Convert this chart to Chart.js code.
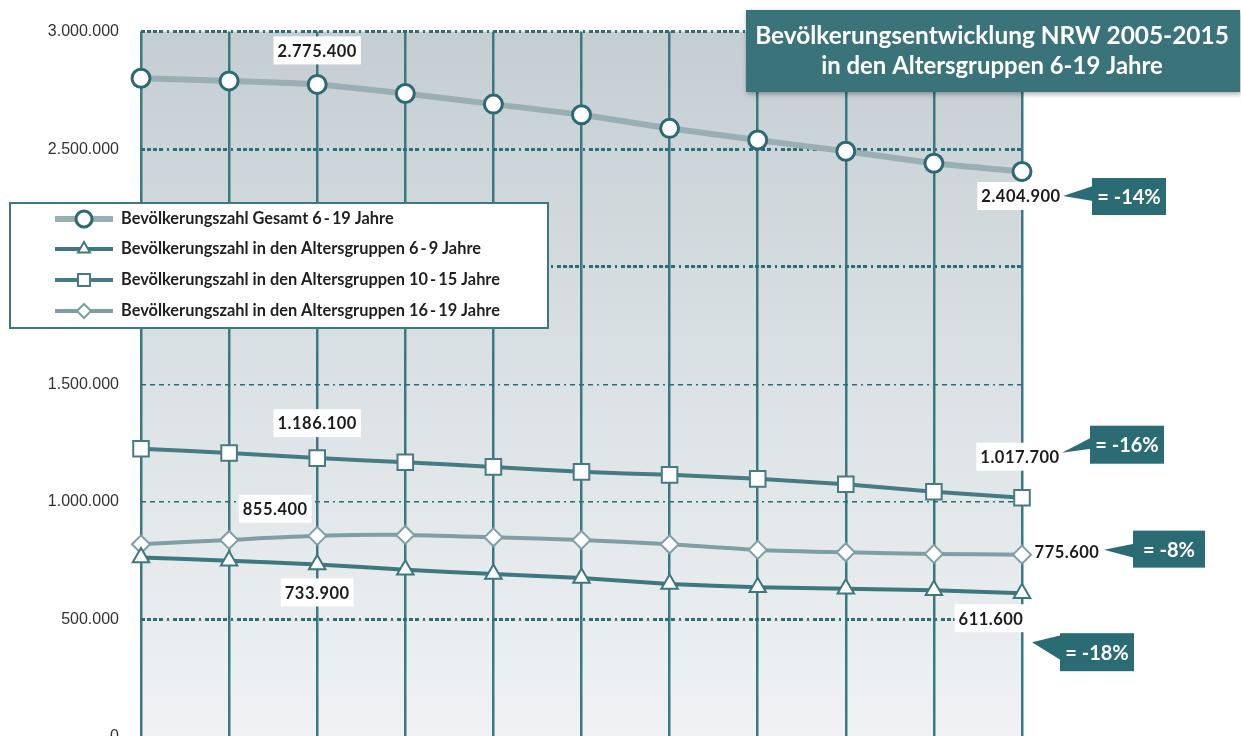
<!DOCTYPE html>
<html><head><meta charset="utf-8">
<script src="https://cdn.jsdelivr.net/npm/chart.js@4.4.1/dist/chart.umd.min.js"></script>
<style>
html,body{margin:0;padding:0;background:#fff;overflow:hidden;width:1241px;height:736px}
#wrap{position:relative;width:1241px;height:780px}
</style>
</head><body><div id="wrap"><canvas id="c" width="1241" height="780"></canvas></div>
<script>
// ---- data ----
const years = ['2005','2006','2007','2008','2009','2010','2011','2012','2013','2014','2015'];
const gesamt    = [2801700,2790300,2775400,2736900,2691600,2646200,2588600,2539000,2491100,2440300,2404900];
const age6to9   = [763600,749600,733900,711500,693200,676300,650900,636400,630900,623700,611600];
const age10to15 = [1226300,1208000,1186100,1168200,1148700,1127600,1114800,1097900,1075000,1042800,1017700];
const age16to19 = [819500,838100,855400,859300,849200,838100,819500,795800,785600,778800,775600];
const yTicks = [0,500000,1000000,1500000,2000000,2500000,3000000];
const seriesLabels = [
  'Bevölkerungszahl Gesamt 6\u2009-\u200919 Jahre',
  'Bevölkerungszahl in den Altersgruppen 6\u2009-\u20099 Jahre',
  'Bevölkerungszahl in den Altersgruppen 10\u2009-\u200915 Jahre',
  'Bevölkerungszahl in den Altersgruppen 16\u2009-\u200919 Jahre'
];
const changeLabels = ['= -14%','= -18%','= -16%','= -8%'];
const titleLines = ['Bevölkerungsentwicklung NRW 2005-2015','in den Altersgruppen 6-19 Jahre'];

const fmt = v => String(Math.round(v)).replace(/\B(?=(\d{3})+(?!\d))/g, '.');

function fitFont(ctx, text, weight, family, target){
  let s = 20;
  ctx.font = weight+' '+s+'px '+family;
  const w = ctx.measureText(text).width;
  return s * target / w;
}

// ---- plugins ----
const bgPlugin = {
  id:'bg',
  beforeDraw(chart){
    const {ctx, chartArea:a} = chart;
    const g = ctx.createLinearGradient(0,a.top,0,a.bottom);
    g.addColorStop(0,'#c4ced3');
    g.addColorStop(0.45,'#d9e0e3');
    g.addColorStop(1,'#f0f2f4');
    ctx.save(); ctx.fillStyle = g; ctx.fillRect(a.left,a.top,a.right-a.left,a.bottom-a.top); ctx.restore();
  }
};

function drawMarker(ctx, ds, x, y, r){
  ctx.save();
  ctx.fillStyle = ds.pointBackgroundColor;
  ctx.strokeStyle = ds.pointBorderColor;
  ctx.lineWidth = ds.pointBorderWidth;
  if (Chart.helpers && Chart.helpers.drawPoint){
    Chart.helpers.drawPoint(ctx, {pointStyle: ds.pointStyle, radius: r, borderWidth: ds.pointBorderWidth, rotation: 0}, x, y);
  } else {
    ctx.beginPath(); ctx.arc(x,y,r,0,Math.PI*2); ctx.fill(); ctx.stroke();
  }
  ctx.restore();
}

function labelBox(ctx, text, cx, cy, font, bg){
  ctx.save();
  ctx.font = font;
  ctx.letterSpacing = '0.5px';
  const w = ctx.measureText(text).width;
  if (bg){ ctx.fillStyle = '#fff'; ctx.fillRect(cx - w/2 - 4, cy - 14, w + 8, 28); }
  ctx.fillStyle = '#1c1c1c';
  ctx.textAlign = 'center'; ctx.textBaseline = 'middle';
  ctx.fillText(text, cx, cy+1);
  ctx.restore();
}

const annoPlugin = {
  id:'anno',
  afterDraw(chart){
    const ctx = chart.ctx;
    const dsets = chart.data.datasets;
    const pt = (d,i) => chart.getDatasetMeta(d).data[i];
    const lblFont = 'bold 16.5px Lato';

    // value labels at 2007
    const first = [
      {d:0, dx:0,   dy:-34},
      {d:2, dx:0,   dy:-35},
      {d:3, dx:-42, dy:-27},
      {d:1, dx:0,   dy:28}
    ];
    first.forEach(l => {
      const p = pt(l.d, 2);
      labelBox(ctx, fmt(dsets[l.d].data[2]), p.x + l.dx, p.y + l.dy, lblFont, true);
    });

    // end labels + callouts at 2015
    const last = [
      {d:0, c:0, dx:-1,  dy:24.5, bx:70,  by:6.5, w:74, h:37, tx:41, ty:24.5, b1:8,  b2:23, bg:true},
      {d:1, c:1, dx:-31, dy:25,   bx:38,  by:40,  w:74, h:38, tx:10, ty:49,   b1:2,  b2:27, bg:true},
      {d:2, c:2, dx:-2,  dy:-41,  bx:68,  by:-72, w:74, h:38, tx:40, ty:-45,  b1:12, b2:23, bg:true},
      {d:3, c:3, dx:45,  dy:-3,   bx:111, by:-24, w:72, h:37, tx:82, ty:-5,   b1:13, b2:27, bg:false}
    ];
    last.forEach(l => {
      const p = pt(l.d, 10);
      labelBox(ctx, fmt(dsets[l.d].data[10]), p.x + l.dx, p.y + l.dy, lblFont, l.bg);
      const bx = p.x + l.bx, by = p.y + l.by;
      ctx.save();
      ctx.fillStyle = '#2b6b73';
      ctx.fillRect(bx, by, l.w, l.h);
      ctx.beginPath();
      ctx.moveTo(p.x + l.tx, p.y + l.ty);
      ctx.lineTo(bx + 1, by + l.b1);
      ctx.lineTo(bx + 1, by + l.b2);
      ctx.closePath(); ctx.fill();
      ctx.fillStyle = '#fff';
      ctx.font = 'bold 20px Lato';
      ctx.textAlign = 'center'; ctx.textBaseline = 'middle';
      ctx.fillText(changeLabels[l.c], bx + l.w/2, by + l.h/2 + 1);
      ctx.restore();
    });

    // legend
    ctx.save();
    ctx.fillStyle = '#fff';
    ctx.fillRect(10, 203, 538, 125);
    ctx.strokeStyle = '#3d777f'; ctx.lineWidth = 2;
    ctx.strokeRect(10, 203, 538, 125);
    const lf = fitFont(ctx, seriesLabels[3], 'bold', 'Lato', 379);
    const rows = [219, 249, 280, 311];
    const mr = [8, 7, 8.5, 7];
    dsets.forEach((ds, i) => {
      const y = rows[i];
      ctx.strokeStyle = ds.borderColor; ctx.lineWidth = ds.borderWidth;
      ctx.beginPath(); ctx.moveTo(55, y); ctx.lineTo(113, y); ctx.stroke();
      drawMarker(ctx, ds, 84, y, mr[i]);
      ctx.fillStyle = '#1f1f1f';
      ctx.font = 'bold ' + lf + 'px Lato';
      ctx.textAlign = 'left'; ctx.textBaseline = 'middle';
      ctx.fillText(ds.label, 121, y);
    });
    ctx.restore();

    // title box
    ctx.save();
    ctx.shadowColor = 'rgba(0,0,0,0.35)'; ctx.shadowBlur = 5; ctx.shadowOffsetX = 1; ctx.shadowOffsetY = 2;
    ctx.fillStyle = '#3b737b';
    ctx.fillRect(746, 10, 494, 82);
    ctx.restore();
    ctx.save();
    ctx.fillStyle = '#fff'; ctx.textAlign = 'center'; ctx.textBaseline = 'middle';
    const f1 = fitFont(ctx, titleLines[0], 'bold', 'Lato', 474);
    ctx.font = 'bold ' + f1 + 'px Lato';
    ctx.fillText(titleLines[0], 992, 36);
    const f2 = fitFont(ctx, titleLines[1], 'bold', 'Lato', 342);
    ctx.font = 'bold ' + f2 + 'px Lato';
    ctx.fillText(titleLines[1], 992, 66);
    ctx.restore();
  }
};

const thin = v => v === 1000000 || v === 1500000;

new Chart(document.getElementById('c'), {
  type: 'line',
  data: {
    labels: years,
    datasets: [
      {label: seriesLabels[0], data: gesamt, borderColor:'#9aafb4', borderWidth:6, tension:0.2,
       pointStyle:'circle', pointRadius:9, pointBorderWidth:3, pointBorderColor:'#2b6a72', pointBackgroundColor:'#fff'},
      {label: seriesLabels[1], data: age6to9, borderColor:'#3d777f', borderWidth:4, tension:0.2,
       pointStyle:'triangle', pointRadius:9.5, pointBorderWidth:2, pointBorderColor:'#3d777f', pointBackgroundColor:'#fff'},
      {label: seriesLabels[2], data: age10to15, borderColor:'#467b83', borderWidth:4, tension:0.2,
       pointStyle:'rect', pointRadius:11, pointBorderWidth:2, pointBorderColor:'#467b83', pointBackgroundColor:'#fff'},
      {label: seriesLabels[3], data: age16to19, borderColor:'#7f9fa5', borderWidth:4, tension:0.2,
       pointStyle:'rectRot', pointRadius:9, pointBorderWidth:2, pointBorderColor:'#7f9fa5', pointBackgroundColor:'#fff'}
    ]
  },
  options: {
    responsive:false, animation:false, devicePixelRatio:1,
    layout:{padding:{left:0, right:219, top:30, bottom:43}},
    plugins:{legend:{display:false}, title:{display:false}, tooltip:{enabled:false}},
    scales:{
      x:{
        offset:false,
        ticks:{display:false},
        grid:{color:'#3b7880', lineWidth:2.5, drawTicks:false},
        border:{display:false},
        afterFit(s){ s.height = 0; }
      },
      y:{
        min:0, max:3000000,
        afterBuildTicks(s){ s.ticks = yTicks.map(v => ({value:v})); },
        ticks:{callback:v => fmt(v), color:'#333', padding:22, font:{family:'Liberation Sans', size:16}},
        grid:{
          drawTicks:false,
          color: c => c.tick && c.tick.value === 0 ? 'rgba(0,0,0,0)' : '#2d6d75',
          lineWidth: c => c.tick && thin(c.tick.value) ? 1.6 : 3
        },
        border:{display:false,
          dash: c => c.tick && thin(c.tick.value) ? [5,4,5,4,5,4,2,4] : [4,2,4,2,4,2,4,4,2,4]},
        afterFit(s){ s.width = 141; }
      }
    }
  },
  plugins:[bgPlugin, annoPlugin]
});
</script>
</body></html>
